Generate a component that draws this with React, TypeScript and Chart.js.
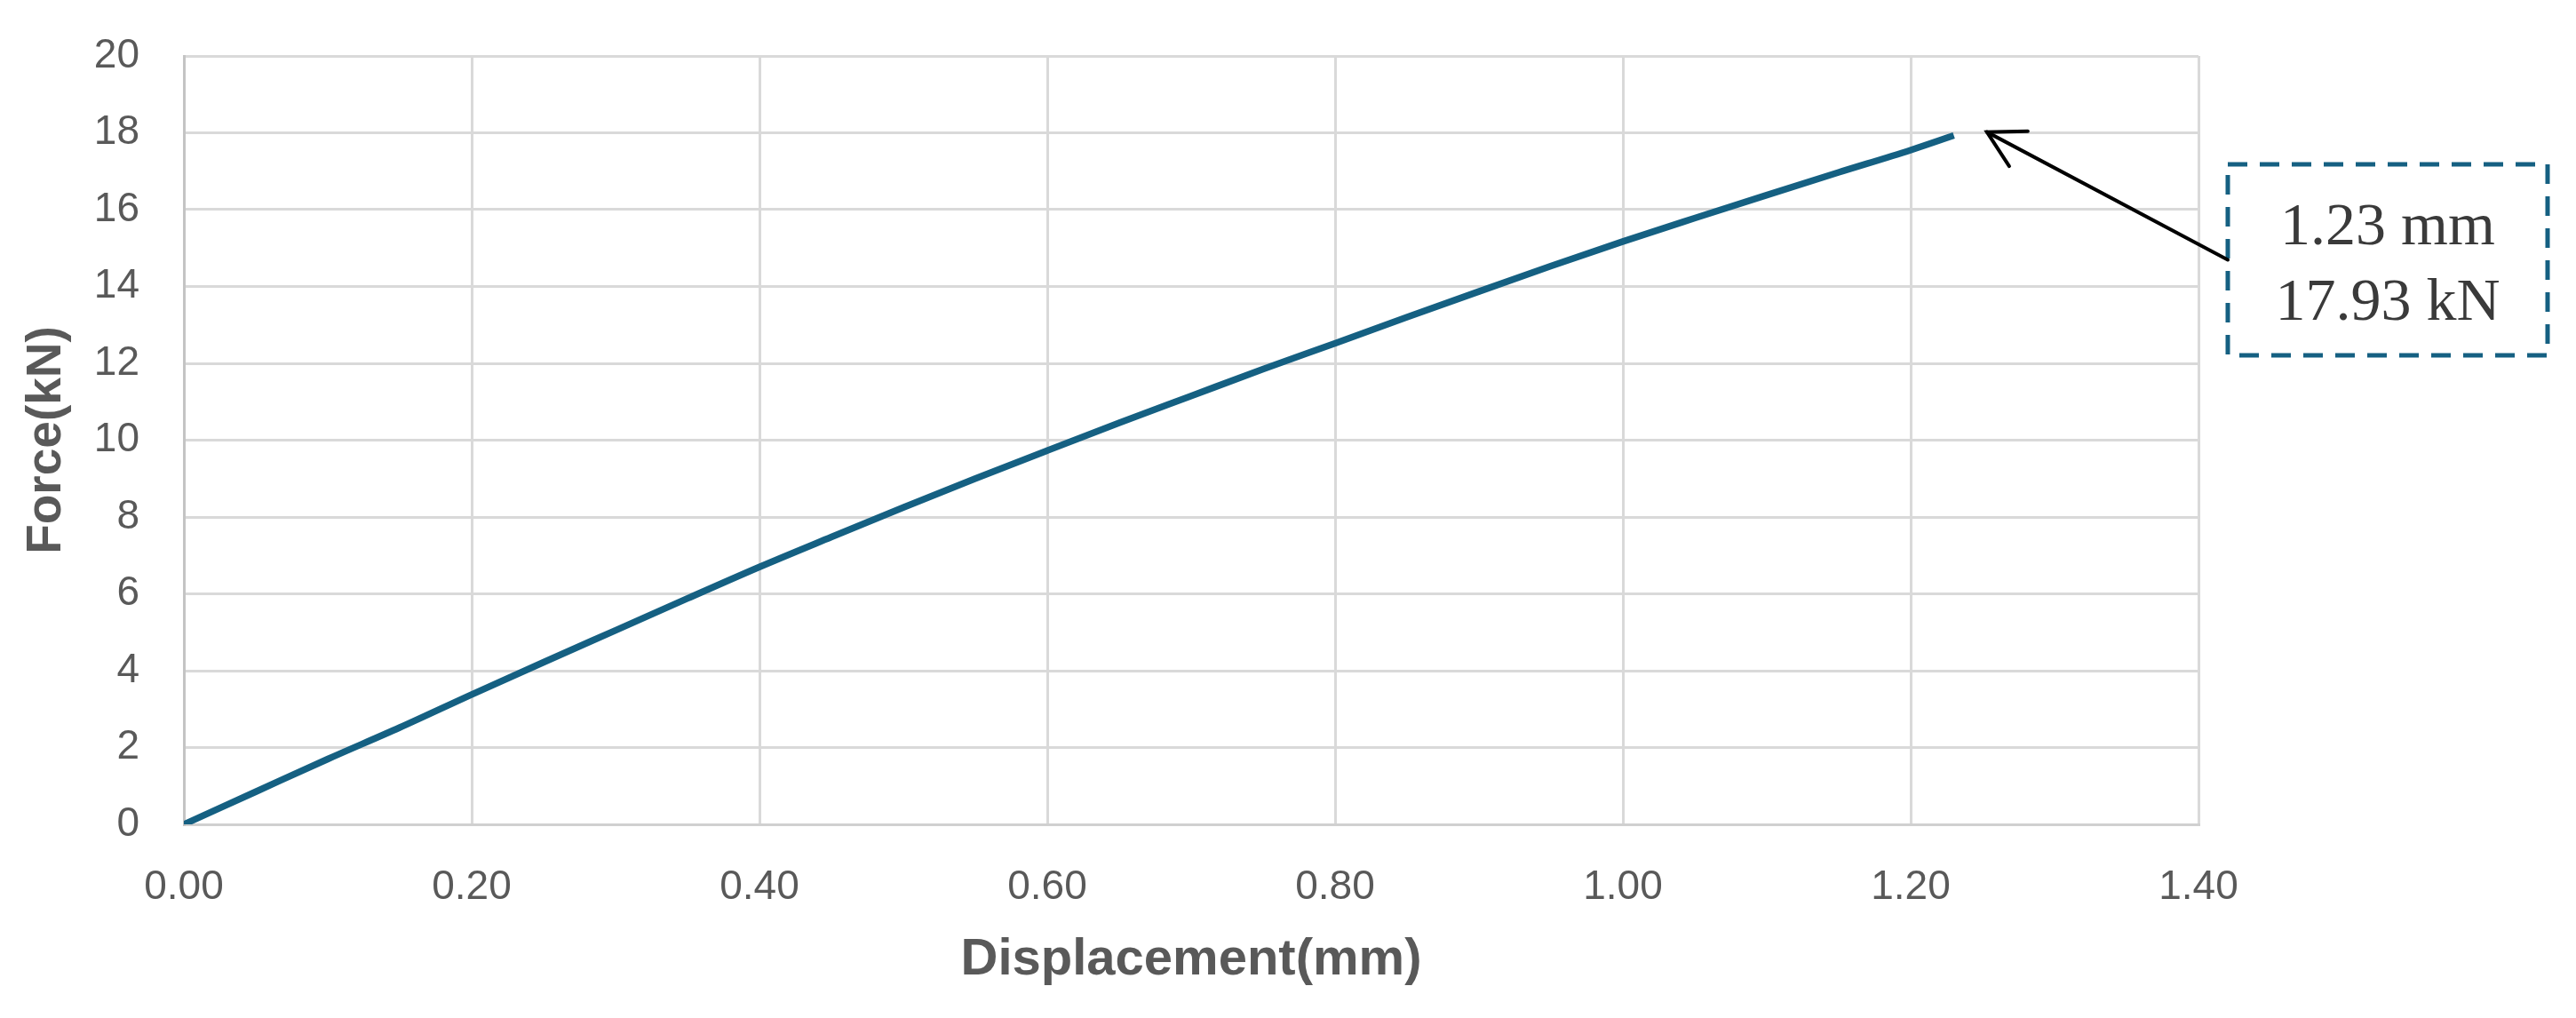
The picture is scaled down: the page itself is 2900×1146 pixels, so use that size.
import React, { useEffect, useRef } from "react";
import { Chart, registerables } from "chart.js";

Chart.register(...registerables);

// Displacement (mm)
const displacement = [
  0, 0.05, 0.1, 0.15, 0.2, 0.25, 0.3, 0.35, 0.4, 0.45, 0.5, 0.55, 0.6, 0.65,
  0.7, 0.75, 0.8, 0.85, 0.9, 0.95, 1.0, 1.05, 1.1, 1.15, 1.2, 1.23,
];
// Force (kN)
const force = [
  0, 0.85, 1.7, 2.52, 3.38, 4.22, 5.05, 5.88, 6.7, 7.48, 8.25, 9.0, 9.73, 10.45,
  11.15, 11.85, 12.52, 13.2, 13.87, 14.53, 15.17, 15.78, 16.38, 16.97, 17.55, 17.93,
];

const xAxisTitle = "Displacement(mm)";
const yAxisTitle = "Force(kN)";
const xRange = [0, 1.4];
const xStep = 0.2;
const yRange = [0, 20];
const yStep = 2;

const peakLabel = ["1.23 mm", "17.93 kN"];
const peakArrowTip = [1.253, 18.02];

const LINE_COLOR = "#156082";
const TEXT_COLOR = "#595959";
const GRID_COLOR = "#d9d9d9";

const annotationPlugin = {
  id: "peakAnnotation",
  afterDraw(chart: any) {
    const ctx = chart.ctx as CanvasRenderingContext2D;
    const xs = chart.scales.x;
    const ys = chart.scales.y;
    const tipX = xs.getPixelForValue(peakArrowTip[0]);
    const tipY = ys.getPixelForValue(peakArrowTip[1]);
    const box = { left: 2508, top: 185, width: 360, height: 215 };
    ctx.save();
    // dashed box
    ctx.setLineDash([22, 14]);
    ctx.lineWidth = 5;
    ctx.strokeStyle = LINE_COLOR;
    ctx.strokeRect(box.left, box.top, box.width, box.height);
    ctx.setLineDash([]);
    // text
    ctx.fillStyle = "#3a3a3a";
    ctx.font = '68px "Liberation Serif", "Times New Roman", serif';
    ctx.textAlign = "center";
    ctx.textBaseline = "alphabetic";
    const cx = box.left + box.width / 2;
    ctx.fillText(peakLabel[0], cx, box.top + 90);
    ctx.fillText(peakLabel[1], cx, box.top + 175);
    // arrow
    const sx = box.left;
    const sy = box.top + box.height / 2;
    ctx.strokeStyle = "#000000";
    ctx.lineWidth = 4;
    ctx.lineCap = "round";
    ctx.beginPath();
    ctx.moveTo(sx, sy);
    ctx.lineTo(tipX, tipY);
    ctx.stroke();
    const ang = Math.atan2(sy - tipY, sx - tipX);
    const L = 46;
    const half = (29 * Math.PI) / 180;
    ctx.beginPath();
    ctx.moveTo(tipX + L * Math.cos(ang - half), tipY + L * Math.sin(ang - half));
    ctx.lineTo(tipX, tipY);
    ctx.lineTo(tipX + L * Math.cos(ang + half), tipY + L * Math.sin(ang + half));
    ctx.stroke();
    ctx.restore();
  },
};

export default function App() {
  const canvasRef = useRef<HTMLCanvasElement | null>(null);

  useEffect(() => {
    document.body.style.margin = "0";
    const canvas = canvasRef.current;
    if (!canvas) return;
    const points = displacement.map((d, i) => ({ x: d, y: force[i] }));
    const chart = new Chart(canvas, {
      type: "line",
      data: {
        datasets: [
          {
            label: "Force",
            data: points,
            borderColor: LINE_COLOR,
            backgroundColor: LINE_COLOR,
            borderWidth: 7.5,
            pointRadius: 0,
            tension: 0.3,
            cubicInterpolationMode: "monotone",
            fill: false,
          },
        ],
      },
      options: {
        animation: false,
        responsive: false,
        devicePixelRatio: 1,
        layout: { padding: { top: 63, right: 425, left: 0, bottom: 0 } },
        plugins: {
          legend: { display: false },
          tooltip: { enabled: false },
        },
        scales: {
          x: {
            type: "linear",
            min: xRange[0],
            max: xRange[1],
            afterFit: (scale: any) => {
              scale.height = 218;
            },
            afterBuildTicks: (scale: any) => {
              const t = [];
              for (let i = 0; i <= Math.round((xRange[1] - xRange[0]) / xStep); i++) {
                t.push({ value: +(xRange[0] + i * xStep).toFixed(2) });
              }
              scale.ticks = t;
            },
            ticks: {
              callback: (v: any) => Number(v).toFixed(2),
              color: TEXT_COLOR,
              font: { family: '"Liberation Sans", Arial, sans-serif', size: 46 },
              padding: 44,
              maxRotation: 0,
              autoSkip: false,
            },
            grid: { color: GRID_COLOR, lineWidth: 3, drawTicks: false },
            border: { color: "#d0d0d0", width: 3 },
            title: {
              display: true,
              text: xAxisTitle,
              color: TEXT_COLOR,
              font: { family: '"Liberation Sans", Arial, sans-serif', size: 58, weight: "bold" },
              padding: { top: 0, bottom: 30 },
            },
          },
          y: {
            type: "linear",
            min: yRange[0],
            max: yRange[1],
            afterFit: (scale: any) => {
              scale.width = 207;
              scale.paddingTop = 0;
              scale.paddingBottom = 0;
            },
            ticks: {
              stepSize: yStep,
              color: TEXT_COLOR,
              font: { family: '"Liberation Sans", Arial, sans-serif', size: 46 },
              padding: 50,
              autoSkip: false,
            },
            grid: { color: GRID_COLOR, lineWidth: 3, drawTicks: false },
            border: { color: "#c4c4c4", width: 3 },
            title: {
              display: true,
              text: yAxisTitle,
              color: TEXT_COLOR,
              font: { family: '"Liberation Sans", Arial, sans-serif', size: 55, weight: "bold" },
              padding: { top: 20, bottom: 0 },
            },
          },
        },
      },
      plugins: [annotationPlugin],
    });
    return () => chart.destroy();
  }, []);

  return (
    <div
      style={{
        position: "fixed",
        left: 0,
        top: 0,
        width: 2900,
        height: 1146,
        background: "#ffffff",
      }}
    >
      <canvas ref={canvasRef} width={2900} height={1146} style={{ display: "block" }} />
    </div>
  );
}
